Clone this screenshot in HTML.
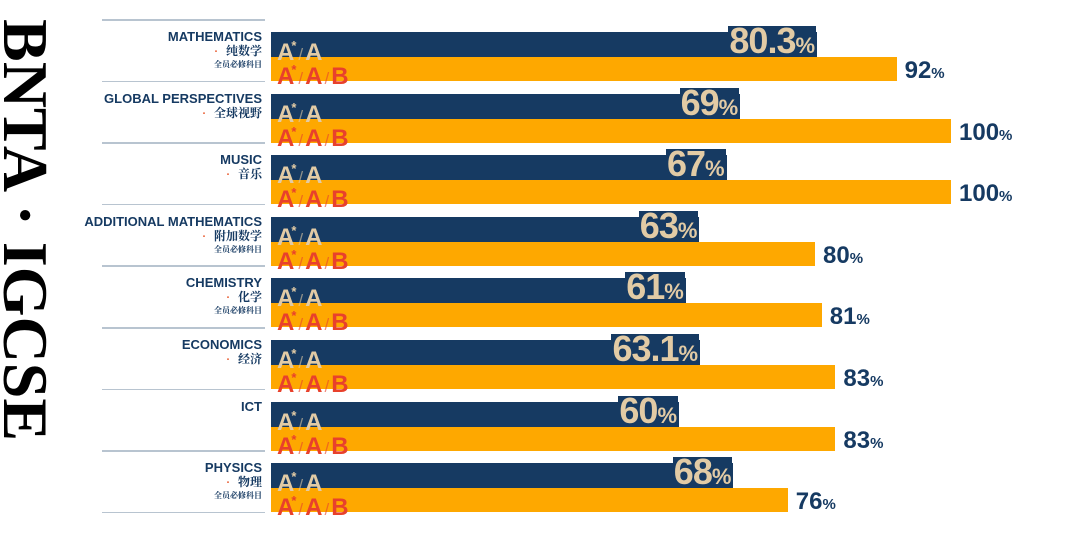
<!DOCTYPE html>
<html><head><meta charset="utf-8">
<style>
body{margin:0;width:1080px;height:558px;background:#fff;position:relative;overflow:hidden;font-family:"Liberation Sans","Noto Sans CJK SC",sans-serif}
.v{position:absolute;left:-7px;top:19px;writing-mode:vertical-rl;font-family:"Liberation Serif",serif;font-weight:bold;font-size:64px;line-height:64px;color:#000;white-space:nowrap}
.ln{position:absolute;left:102px;width:163px;height:1.5px;background:#b8c4d0}
.nm{position:absolute;right:818px;text-align:right;color:#163a62;font-weight:bold;font-size:13px;white-space:nowrap;line-height:14px}
.cn{position:absolute;right:818px;text-align:right;color:#163a62;font-size:12px;white-space:nowrap;line-height:13px;font-family:"Noto Serif CJK SC","Noto Sans CJK SC",sans-serif;font-weight:bold}
.cn b{color:#e8582c;font-size:10px;margin-right:5px}
.sm{position:absolute;right:818px;color:#163a62;font-size:8px;white-space:nowrap;line-height:9px;font-family:"Noto Serif CJK SC",sans-serif;font-weight:bold}
.bn{position:absolute;left:271px;height:25px;background:#163a62}
.bo{position:absolute;left:271px;height:24px;background:#fea800}
.g{position:absolute;left:277px;font-weight:bold;font-size:24px;line-height:24px;white-space:nowrap}
.g sup{font-size:13px;vertical-align:10px;margin-left:-3px}
.g i{font-style:normal;font-weight:normal;font-size:17px;margin:0 2px;opacity:.6}
.pn{position:absolute;color:#e2cba5;font-weight:bold;font-size:36px;line-height:30px;height:30px;white-space:nowrap;background:#163a62;padding:0 1px;letter-spacing:-1px}
.pn span,.po span{font-size:22px;letter-spacing:0}
.po{position:absolute;color:#163a62;font-weight:bold;font-size:24px;line-height:24px;white-space:nowrap}
.po span{font-size:15px}
</style></head><body>
<div class="v">BNTA · IGCSE</div>
<div id="c"></div>
<script>
var d=[["MATHEMATICS","纯数学",1,80.3,92],["GLOBAL PERSPECTIVES","全球视野",0,69,100],["MUSIC","音乐",0,67,100],["ADDITIONAL MATHEMATICS","附加数学",1,63,80],["CHEMISTRY","化学",1,61,81],["ECONOMICS","经济",0,63.1,83],["ICT","",0,60,83],["PHYSICS","物理",1,68,76]];
var h="";
for(var i=0;i<8;i++){var r=d[i],y=19+61.6*i;
h+='<div class="ln" style="top:'+y+'px"></div>';
if(i==7)h+='<div class="ln" style="top:'+(y+61.6)+'px"></div>';
h+='<div class="nm" style="top:'+(y+11)+'px">'+r[0]+'</div>';
if(r[1])h+='<div class="cn" style="top:'+(y+25)+'px"><b>•</b>'+r[1]+'</div>';
if(r[2])h+='<div class="sm" style="top:'+(y+41)+'px">全员必修科目</div>';
var wn=r[3]*6.8,wo=r[4]*6.8;
h+='<div class="bn" style="top:'+(y+13)+'px;width:'+wn+'px"></div>';
h+='<div class="bo" style="top:'+(y+38)+'px;width:'+wo+'px"></div>';
h+='<div class="g" style="top:'+(y+15)+'px;color:#e2cba5">A<sup>*</sup><i>/</i>A</div>';
h+='<div class="g" style="top:'+(y+39)+'px;color:#e8412c">A<sup>*</sup><i>/</i>A<i>/</i>B</div>';
h+='<div class="pn" style="top:'+(y+7)+'px;right:'+(1080-271-wn+1)+'px">'+r[3]+'<span>%</span></div>';
h+='<div class="po" style="top:'+(y+40)+'px;left:'+(271+wo+8)+'px">'+r[4]+'<span>%</span></div>';
}
document.getElementById("c").innerHTML=h;
</script>
</body></html>
